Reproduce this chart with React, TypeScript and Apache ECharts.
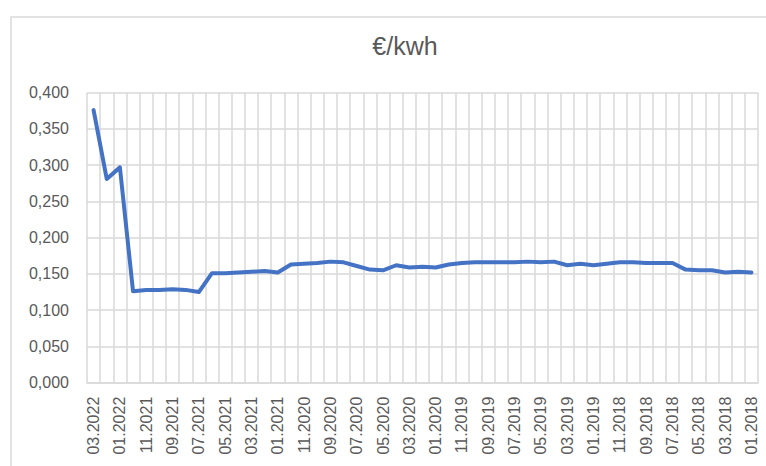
import React, { useEffect, useRef } from "react";
import * as echarts from "echarts";

const categories: string[] = [
  "03.2022", "02.2022", "01.2022", "12.2021", "11.2021", "10.2021", "09.2021", "08.2021", "07.2021", "06.2021",
  "05.2021", "04.2021", "03.2021", "02.2021", "01.2021", "12.2020", "11.2020", "10.2020", "09.2020", "08.2020",
  "07.2020", "06.2020", "05.2020", "04.2020", "03.2020", "02.2020", "01.2020", "12.2019", "11.2019", "10.2019",
  "09.2019", "08.2019", "07.2019", "06.2019", "05.2019", "04.2019", "03.2019", "02.2019", "01.2019", "12.2018",
  "11.2018", "10.2018", "09.2018", "08.2018", "07.2018", "06.2018", "05.2018", "04.2018", "03.2018", "02.2018",
  "01.2018",
];

const prices: number[] = [
  0.376, 0.281, 0.297, 0.126, 0.128, 0.128, 0.129, 0.128, 0.125, 0.151,
  0.151, 0.152, 0.153, 0.154, 0.152, 0.163, 0.164, 0.165, 0.167, 0.166,
  0.161, 0.156, 0.155, 0.162, 0.159, 0.160, 0.159, 0.163, 0.165, 0.166,
  0.166, 0.166, 0.166, 0.167, 0.166, 0.167, 0.162, 0.164, 0.162, 0.164,
  0.166, 0.166, 0.165, 0.165, 0.165, 0.156, 0.155, 0.155, 0.152, 0.153,
  0.152,
];

const titleText = "€/kwh";

export default function App() {
  const ref = useRef<HTMLDivElement>(null);
  useEffect(() => {
    if (!ref.current) return;
    const chart = echarts.init(ref.current, null, { renderer: "svg" });
    const font = "'Liberation Sans', Arial, sans-serif";
    chart.setOption({
      animation: false,
      backgroundColor: "#ffffff",
      title: {
        text: titleText,
        left: 400,
        top: 28,
        textAlign: "center",
        textStyle: { color: "#595959", fontSize: 25, fontWeight: "normal", fontFamily: font },
      },
      graphic: [
        {
          type: "rect",
          shape: { x: 11, y: 17, width: 820, height: 520 },
          style: { fill: "none", stroke: "#d9d9d9", lineWidth: 1.5 },
          silent: true,
        },
      ],
      grid: { left: 87, right: 8, top: 92.7, bottom: 83.3, containLabel: false },
      xAxis: {
        type: "category",
        data: categories,
        boundaryGap: true,
        axisLine: { show: true, lineStyle: { color: "#d9d9d9", width: 1.5 } },
        axisTick: { show: false },
        axisLabel: {
          interval: 1,
          rotate: 90,
          margin: 14,
          color: "#595959",
          fontSize: 16,
          fontFamily: font,
        },
        splitLine: { show: true, interval: 0, lineStyle: { color: "#d9d9d9", width: 1.5 } },
      },
      yAxis: {
        type: "value",
        min: 0,
        max: 0.4,
        interval: 0.05,
        axisLine: { show: false },
        axisTick: { show: false },
        axisLabel: {
          margin: 18,
          color: "#595959",
          fontSize: 16,
          fontFamily: font,
          formatter: (v: number) => v.toFixed(3).replace(".", ","),
        },
        splitLine: { show: true, lineStyle: { color: "#d9d9d9", width: 1.5 } },
      },
      series: [
        {
          type: "line",
          data: prices,
          showSymbol: false,
          symbol: "none",
          smooth: false,
          lineStyle: { color: "#4472C4", width: 4, cap: "round", join: "round" },
        },
      ],
    });
    return () => chart.dispose();
  }, []);
  return (
    <div
      ref={ref}
      style={{ position: "absolute", left: 0, top: 0, width: 766, height: 466 }}
    />
  );
}
